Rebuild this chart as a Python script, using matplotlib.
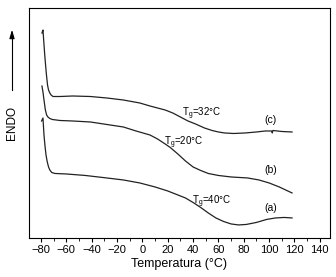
import matplotlib.pyplot as plt
from matplotlib.ticker import MultipleLocator

plt.rcParams["font.family"] = ["Liberation Sans", "DejaVu Sans"]

# DSC curves, heat flow in arbitrary units (endo up)
temp_c = [-79.2, -78.4, -77.0, -75.8, -74.8, -74.0, -73.0, -72.0, -70.5, -68, -65,
          -55, -41, -28, -15, -2, 6, 12, 18, 24, 30, 36, 42, 49, 55, 60, 65, 72,
          81, 90, 97, 102, 102.5, 103, 110, 118.1]
flow_c = [205, 208, 183, 165, 153, 148, 145, 143, 141.5, 141.5, 141.5,
          142, 141.5, 140, 138, 135, 132, 130, 128, 125, 121, 117, 114, 110,
          107.5, 106, 105, 104.5, 105, 106, 107, 107, 105, 107.5, 106.5, 106]

temp_b = [-79.2, -78.4, -77.6, -76.5, -75.5, -74.5, -73, -71, -68, -65, -55, -41,
          -28, -15, -5, 6, 12, 18, 22, 28, 34, 40, 46, 52, 60, 70, 83, 92, 100,
          108, 118.1]
flow_b = [152, 146, 138, 128, 123, 121, 119.5, 118.5, 118, 117.5, 117, 116,
          113.5, 111, 107, 103, 99, 94, 90.5, 84, 77, 71, 67.5, 64.5, 62.5, 61,
          60, 58, 55, 51, 45]

temp_a = [-79.5, -78.4, -77.6, -76.8, -76, -75, -74, -73, -71.5, -69, -60, -45,
          -28, -15, -2, 10, 20, 28, 34, 40, 46, 52, 58, 64, 70, 76, 82, 90, 98,
          105, 112, 118.1]
flow_a = [117, 120, 103, 92, 83, 76, 71, 68, 65.5, 64.5, 64, 62.5,
          60, 58, 55, 51, 47, 43, 40, 35.5, 30.5, 25, 20, 16.5, 14, 13, 13.5,
          15.5, 18.5, 20, 20.5, 20]

fig = plt.figure(figsize=(3.36, 2.77), dpi=100)
ax = fig.add_axes([0.086, 0.141, 0.896, 0.830])

for t, f in [(temp_a, flow_a), (temp_b, flow_b), (temp_c, flow_c)]:
    ax.plot(t, f, color="#222222", lw=0.9)

ax.set_xlim(-89.5, 148)
ax.set_ylim(0, 230)
ax.xaxis.set_major_locator(MultipleLocator(20))
ax.xaxis.set_minor_locator(MultipleLocator(10))
ax.tick_params(axis="x", which="major", direction="out", length=3, width=0.8,
               labelsize=8, pad=2)
ax.tick_params(axis="x", which="minor", direction="out", length=2, width=0.6)
ax.set_yticks([])
for s in ax.spines.values():
    s.set_linewidth(0.8)
ax.set_xlabel("Temperatura (°C)", fontsize=9, labelpad=2)

fs = 7
ax.text(31, 122, r"T$_\mathregular{g}$=32°C", fontsize=fs)
ax.text(17, 93, r"T$_\mathregular{g}$=20°C", fontsize=fs)
ax.text(39, 34, r"T$_\mathregular{g}$=40°C", fontsize=fs)
ax.text(101, 118, "(c)", fontsize=7.5, ha="center", va="center")
ax.text(101, 68, "(b)", fontsize=7.5, ha="center", va="center")
ax.text(101, 30, "(a)", fontsize=7.5, ha="center", va="center")

fig.text(12 / 336, 1 - 123 / 277, "ENDO", rotation=90, fontsize=8.5,
         ha="center", va="center")
fig.add_artist(plt.Line2D([12 / 336, 12 / 336], [1 - 90 / 277, 1 - 35 / 277],
                          color="black", lw=0.8))
ax.annotate("", xy=(12 / 336, 1 - 27 / 277), xytext=(12 / 336, 1 - 40 / 277),
            xycoords="figure fraction", textcoords="figure fraction",
            arrowprops=dict(arrowstyle="-|>,head_length=0.5,head_width=0.15",
                            color="black", lw=0.8))

fig.savefig("out.png", dpi=100)
